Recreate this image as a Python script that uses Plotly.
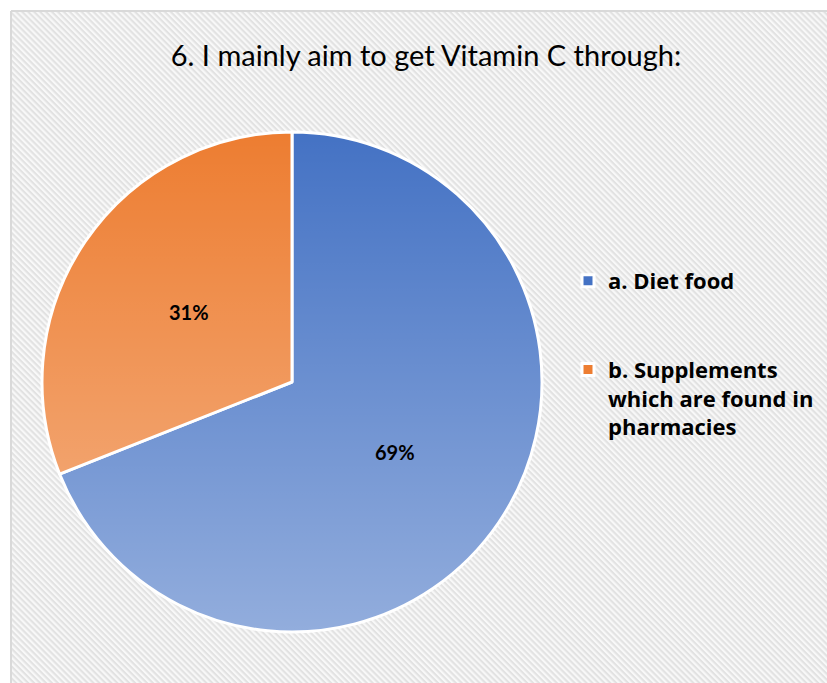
import base64
import math
import plotly.graph_objects as go

# ---- data ----
labels = ["a. Diet food<br> <br> ", "b. Supplements<br>which are found in<br>pharmacies"]
values = [69, 31]
slice_colors = ["#4472C4", "#ED7D31"]
title_text = "6. I mainly aim to get Vitamin C through:"

W, H = 827, 683

def px_x(v):
    return v / W

def px_y(v):
    return 1 - v / H

def svg_uri(svg):
    return "data:image/svg+xml;base64," + base64.b64encode(svg.encode()).decode()

hatch_svg = (
    '<svg xmlns="http://www.w3.org/2000/svg" width="816" height="672">'
    '<defs><pattern id="p" width="4.2" height="4.2" patternUnits="userSpaceOnUse" '
    'patternTransform="rotate(45)">'
    '<rect width="4.2" height="4.2" fill="#f8f8f8"/>'
    '<rect width="4.2" height="2.1" fill="#e2e2e2"/>'
    '</pattern></defs>'
    '<rect width="816" height="672" fill="url(#p)"/></svg>'
)

grad_svg = (
    '<svg xmlns="http://www.w3.org/2000/svg" width="500" height="500">'
    '<defs><linearGradient id="g" x1="0" y1="0" x2="0" y2="1">'
    '<stop offset="0" stop-color="#ffffff" stop-opacity="0"/>'
    '<stop offset="1" stop-color="#ffffff" stop-opacity="0.42"/>'
    '</linearGradient></defs>'
    '<circle cx="250" cy="250" r="250" fill="url(#g)"/></svg>'
)

cx, cy, r = 292, 382, 250

fig = go.Figure(
    go.Pie(
        labels=labels,
        values=values,
        sort=False,
        direction="clockwise",
        rotation=0,
        marker=dict(colors=slice_colors, line=dict(color="white", width=3)),
        textinfo="none",
        domain=dict(x=[px_x(cx - r), px_x(cx + r)], y=[px_y(cy + r), px_y(cy - r)]),
        hoverinfo="label+percent",
    )
)

# percentage labels placed at half radius along each slice's mid-angle (drawn above the shading)
total = sum(values)
annotations = []
cum = 0
for v in values:
    mid = (cum + v / 2) / total * 2 * math.pi
    cum += v
    ax = cx + 0.5 * r * math.sin(mid)
    ay = cy - 0.5 * r * math.cos(mid)
    annotations.append(dict(
        text=f"<b>{round(v / total * 100)}%</b>",
        xref="paper", yref="paper",
        x=px_x(ax), y=px_y(ay),
        xanchor="center", yanchor="middle",
        showarrow=False,
        font=dict(family="Lato", size=20, color="black"),
    ))

fig.update_layout(
    width=W,
    height=H,
    margin=dict(l=0, r=0, t=0, b=0),
    paper_bgcolor="white",
    title=dict(
        text=title_text,
        x=px_x(426),
        xanchor="center",
        y=px_y(56),
        yanchor="middle",
        font=dict(family="Lato", size=29, color="black"),
    ),
    legend=dict(
        x=px_x(568),
        y=px_y(260),
        xanchor="left",
        yanchor="top",
        valign="top",
        bgcolor="rgba(0,0,0,0)",
        font=dict(family="Open Sans", size=22, color="black", weight="bold"),
        itemwidth=30,
    ),
    annotations=annotations,
    images=[
        dict(
            source=svg_uri(hatch_svg),
            xref="paper", yref="paper",
            x=px_x(12), y=px_y(12),
            sizex=816 / W, sizey=672 / H,
            xanchor="left", yanchor="top",
            sizing="stretch",
            layer="below",
        ),
        dict(
            source=svg_uri(grad_svg),
            xref="paper", yref="paper",
            x=px_x(cx - r), y=px_y(cy - r),
            sizex=2 * r / W, sizey=2 * r / H,
            xanchor="left", yanchor="top",
            sizing="stretch",
            layer="above",
        ),
    ],
    shapes=[
        dict(
            type="line", xref="paper", yref="paper",
            x0=px_x(11), x1=1, y0=px_y(11), y1=px_y(11),
            line=dict(color="#d9d9d9", width=2),
        ),
        dict(
            type="line", xref="paper", yref="paper",
            x0=px_x(11), x1=px_x(11), y0=0, y1=px_y(11),
            line=dict(color="#d9d9d9", width=2),
        ),
    ],
)

fig.write_html(
    "out.html",
    config={"displayModeBar": False},
    post_script="document.body.style.margin='0';document.body.style.overflow='hidden';",
)
